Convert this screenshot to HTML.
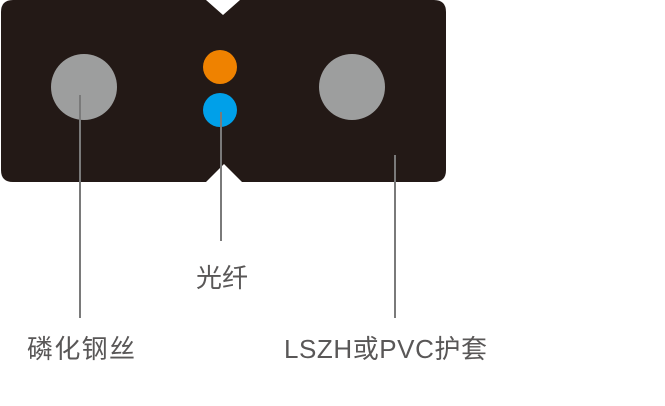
<!DOCTYPE html>
<html><head><meta charset="utf-8"><style>
body{margin:0;background:#fff;width:665px;height:401px;overflow:hidden}
text{font-family:"Liberation Sans","Noto Sans CJK SC",sans-serif;font-size:26px;fill:#595757}
</style></head><body>
<svg width="665" height="401" viewBox="0 0 665 401">
<path d="M13 0 H206 L223 15 L240 0 H434 Q446 0 446 12 V170 Q446 182 434 182 H242 L224 164 L206 182 H13 Q1 182 1 170 V12 Q1 0 13 0 Z" fill="#231916"/>
<circle cx="84" cy="87" r="33" fill="#9d9e9e"/>
<circle cx="352" cy="87" r="33" fill="#9d9e9e"/>
<circle cx="220" cy="67" r="17" fill="#ef8200"/>
<circle cx="220" cy="110" r="17" fill="#00a0e9"/>
<g stroke="#7a7a7a" stroke-width="2">
<line x1="80" y1="95" x2="80" y2="318"/>
<line x1="221" y1="112" x2="221" y2="241"/>
<line x1="395" y1="155" x2="395" y2="318"/>
</g>
<text x="196" y="287" textLength="52">光纤</text>
<text x="27" y="358" textLength="108">磷化钢丝</text>
<text x="284" y="358" textLength="203">LSZH或PVC护套</text>
</svg>
</body></html>
